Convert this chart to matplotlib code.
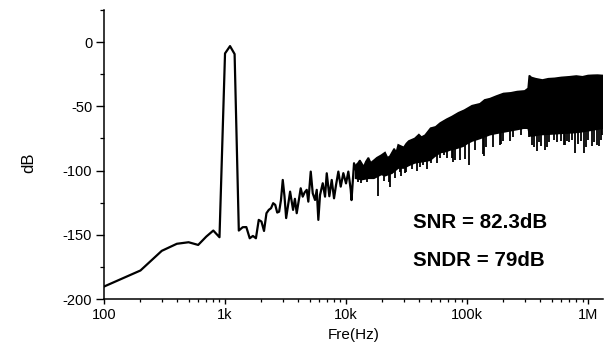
import numpy as np
import matplotlib
matplotlib.use("Agg")
import matplotlib.pyplot as plt
from matplotlib.ticker import FixedLocator, MultipleLocator, LogLocator, NullFormatter

plt.rcParams['font.family'] = ['Liberation Sans', 'DejaVu Sans']
plt.rcParams['axes.unicode_minus'] = False

# low / mid frequency part of the spectrum (Hz, dB)
line_f = [100, 200, 300, 400, 500, 600, 700, 800, 900, 1000, 1100, 1200, 1300,
          1400, 1500, 1600, 1700, 1800, 1900, 2000, 2100, 2200, 2300, 2400, 2500,
          2600, 2700, 2800, 2900, 3000, 3100, 3200, 3450, 3650, 3780, 3913, 4222,
          4386, 4550, 4733, 4880, 5109, 5307, 5544, 5727, 5904, 6097, 6419, 6707,
          6928, 7278, 7617, 7958, 8269, 8640, 9040, 9500, 10000, 10447, 10935,
          11100, 11360, 11645, 12257]
line_db = [-190.3, -177.8, -162.5, -157, -155.8, -157.9, -151.4, -146.7, -151.9,
           -8.8, -3.1, -9.3, -146.7, -144.1, -144, -152.7, -150.9, -152.7, -138.4,
           -139.7, -147, -133.2, -130.6, -129.3, -125.4, -126.7, -132.7, -132,
           -122.9, -107.3, -120, -137, -116.4, -130.6, -122, -133.2, -113.8,
           -120.3, -117, -115, -124.2, -100.8, -117.7, -122.9, -115, -138.4, -119,
           -109.9, -120.3, -102.1, -120, -107.3, -121.6, -111.2, -100.8, -112.5,
           -102, -110, -100.8, -115, -123, -109, -94.3, -102]

# dense noise band above ~12 kHz: upper and lower edges
up_f = [12000, 12600, 13000, 14000, 14600, 15300, 16000, 17000, 18000, 19600,
        21000, 22000, 23000, 25000, 26000, 27000, 30000, 31500, 33000, 37000,
        40000, 42000, 45000, 50000, 55000, 60000, 68000, 75000, 85000, 95000,
        110000, 128000, 140000, 155000, 175000, 200000, 230000, 260000, 300000,
        320000, 327000, 340000, 370000, 420000, 470000, 530000, 600000, 700000,
        800000, 900000, 1000000, 1100000, 1200000, 1330000]
up_db = [-96, -94, -92, -97, -93, -90, -94, -92, -90, -88, -86, -90, -89, -83,
         -86, -80, -82, -79, -77, -75, -72, -74, -72.5, -67, -66, -63, -60, -58,
         -55, -53, -49.5, -48, -45, -44, -42, -40, -39.5, -38.5, -38, -36, -26,
         -27.5, -28.5, -29.5, -28.5, -28.2, -27.5, -27, -26.4, -27, -26, -25.8,
         -25.7, -26]

low_f = [12000, 13500, 15300, 17000, 19600, 21000, 24000, 27000, 30000, 33000,
         37000, 43000, 49500, 54000, 60000, 68000, 72000, 80000, 93000, 100000,
         110000, 128000, 155000, 175000, 213000, 260000, 293000, 320000, 330000,
         350000, 400000, 500000, 600000, 750000, 850000, 1000000, 1150000, 1330000]
low_db = [-106, -107, -106, -106, -103, -104, -102, -98, -98, -96, -94, -93, -92,
          -89, -86, -85, -84, -83, -81, -79, -77, -75, -72, -71, -69.5, -68,
          -67, -67, -73, -73, -72, -71.5, -71, -70.5, -70, -69, -68, -67]

# downward spikes below the band
spike_f = [12600, 13300, 15000, 18500, 20500, 22500, 23100, 25400, 27900, 28500,
           30600, 31600, 35000, 38600, 40600, 43000, 46400, 50000, 56000, 59800,
           64600, 68000, 75000, 77000, 80000, 87500, 96000, 104000, 116000,
           136000, 139000, 144000, 165000, 186000, 191000, 200000, 226000,
           240000, 280000, 327000, 345000, 360000, 377000, 390000, 410000,
           441000, 456000, 480000, 520000, 551000, 600000, 627000, 650000,
           667000, 702000, 740000, 782000, 820000, 870000, 933000, 960000,
           1000000, 1070000, 1120000, 1180000, 1240000, 1280000, 1300000]
spike_lo = [-109, -110, -109, -120, -108, -109, -112.6, -106, -101, -104, -102,
            -101, -99, -100, -97, -96, -99, -94, -94, -90, -88, -90, -90, -93,
            -92, -92, -91, -96, -84, -87, -89, -82, -82, -80, -79, -77, -77, -74,
            -72, -74, -80, -82, -85, -78, -81, -84, -82, -78, -76, -78, -77, -80,
            -80, -77, -78, -76, -86, -79, -77, -86, -82, -76, -81, -78, -80,
            -81, -76, -72]
spike_hi = [-104, -104, -104, -102, -101, -101, -100, -100, -97, -97, -96, -96,
            -94, -93, -93, -91, -91, -90, -88, -86, -84, -84, -83, -82, -82, -80,
            -79, -78, -76, -74, -74, -73, -71, -70, -70, -69, -68, -68, -67, -67,
            -72, -72, -72, -71, -71, -71, -71, -71, -71, -71, -70, -70, -70, -70,
            -70, -70, -70, -69, -69, -69, -69, -68, -68, -68, -68, -67, -67, -67]

fig = plt.figure(figsize=(6.09, 3.45), dpi=100)
ax = fig.add_axes([0.1708, 0.1333, 0.8194, 0.8377])

ax.plot(line_f, line_db, color='black', lw=1.6)
band_x = np.r_[up_f, low_f[::-1]]
band_y = np.r_[up_db, low_db[::-1]]
ax.fill(band_x, band_y, color='black', lw=1.2)
ax.vlines(spike_f, spike_lo, spike_hi, color='black', lw=1.3)

ax.set_xscale('log')
ax.set_xlim(100, 1.33e6)
ax.set_ylim(-200, 25)

ax.xaxis.set_major_locator(FixedLocator([1e2, 1e3, 1e4, 1e5, 1e6]))
ax.set_xticklabels(['100', '1k', '10k', '100k', '1M'])
ax.xaxis.set_minor_locator(LogLocator(base=10, subs=np.arange(2, 10)))
ax.xaxis.set_minor_formatter(NullFormatter())
ax.yaxis.set_major_locator(FixedLocator([-200, -150, -100, -50, 0]))
ax.yaxis.set_minor_locator(MultipleLocator(25))

for s in ['top', 'right']:
    ax.spines[s].set_visible(False)
for s in ['left', 'bottom']:
    ax.spines[s].set_linewidth(1.1)

ax.tick_params(axis='x', which='major', length=3.6, width=1, labelsize=10.5, pad=3)
ax.tick_params(axis='x', which='minor', length=2, width=0.9)
ax.tick_params(axis='y', which='major', length=5.5, width=1, labelsize=10.5, pad=3)
ax.tick_params(axis='y', which='minor', length=3, width=0.9)

ax.set_xlabel('Fre(Hz)', fontsize=11, labelpad=4)
ax.set_ylabel('dB', fontsize=12)
ax.yaxis.set_label_coords(-0.136, 0.47)

ax.text(35600, -144.9, 'SNR = 82.3dB', fontsize=14.8, fontweight='bold', va='baseline')
ax.text(35600, -174.0, 'SNDR = 79dB', fontsize=14.8, fontweight='bold', va='baseline')

fig.savefig('out.png', dpi=100)
